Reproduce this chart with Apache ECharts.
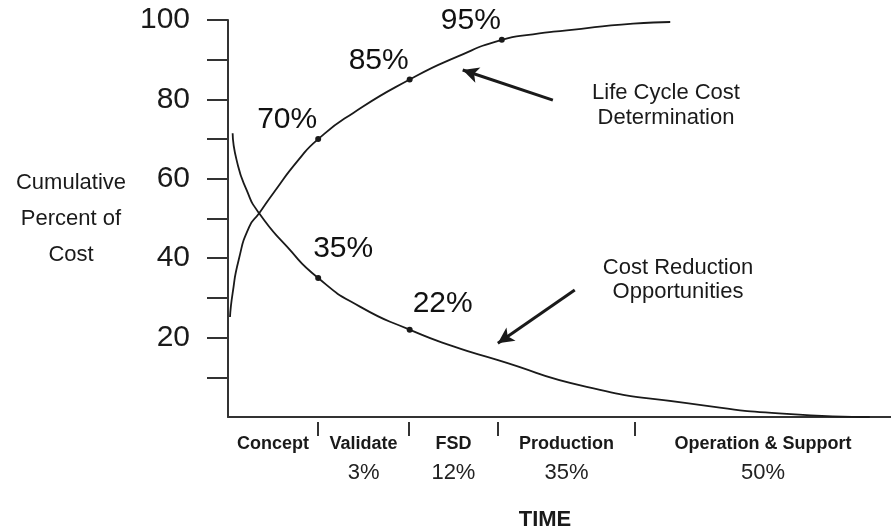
<!DOCTYPE html>
<html>
<head>
<meta charset="utf-8">
<script src="https://cdn.jsdelivr.net/npm/echarts@6/dist/echarts.min.js"></script>
<style>
  html, body { margin: 0; padding: 0; background: #fff; }
  #chart { width: 891px; height: 529px; }
</style>
</head>
<body>
<div id="chart"></div>
<script>
// program phases along the time axis (time runs 0..100)
const phases = ['Concept', 'Validate', 'FSD', 'Production', 'Operation & Support'];
const phaseShare = [null, 3, 12, 35, 50];           // % of cost spent in phase
const phaseBounds = [0, 13.6, 27.3, 40.7, 61.4, 100];

// life cycle cost determination (cumulative %)
const lccTime = [0.3, 0.7, 1.6, 3.2, 4.7, 6.8, 10.6, 13.6, 18.9, 27.4, 34.5, 41.3, 46, 51.1, 61.1, 66.7];
const lccValue = [25.2, 31.2, 39.5, 47.9, 51.3, 56.3, 64.7, 70, 76.6, 85, 90.7, 95, 96.4, 97.4, 99.1, 99.5];

// cost reduction opportunities
const crTime = [0.7, 1.3, 2.8, 4.7, 8.9, 13.6, 19.9, 27.4, 34, 40.6, 54.1, 69.2, 84.3, 96.8];
const crValue = [71.5, 64.7, 57.2, 51.3, 42.9, 35, 27.8, 22, 17.8, 14.4, 7.6, 3.5, 0.8, 0];

// marked milestones
const lccMarkTime = [13.6, 27.4, 41.3];
const lccMarkValue = [70, 85, 95];
const crMarkTime = [13.6, 27.4];
const crMarkValue = [35, 22];

const yTicks = [10, 20, 30, 40, 50, 60, 70, 80, 90, 100];
const yLabels = [20, 40, 60, 80, 100];

const font = '"Liberation Sans", Arial, Helvetica, sans-serif';
const ink = '#1a1a1a';

const separators = phaseBounds.slice(1, -1);
const phaseMid = phases.map((p, i) => (phaseBounds[i] + phaseBounds[i + 1]) / 2);

const zip = (xs, ys) => xs.map((x, i) => [x, ys[i]]);

const marks = [];
lccMarkTime.forEach((t, i) => {
  marks.push({ value: [t, lccMarkValue[i]], name: lccMarkValue[i] + '%',
    label: { offset: [-31, -19] } });
});
crMarkTime.forEach((t, i) => {
  marks.push({ value: [t, crMarkValue[i]], name: crMarkValue[i] + '%',
    label: { offset: i === 0 ? [25, -29] : [33, -26] } });
});

const chart = echarts.init(document.getElementById('chart'));

chart.setOption({
  backgroundColor: '#fff',
  animation: false,
  textStyle: { fontFamily: font, color: ink },
  title: {
    text: 'TIME',
    left: 540,
    top: 504,
    textAlign: 'center',
    textStyle: { fontFamily: font, fontSize: 22, fontWeight: 'bold', color: ink }
  },
  grid: { left: 228, right: 0, top: 20, bottom: 112 },
  xAxis: [
    {
      type: 'value', min: 0, max: 100,
      axisLine: { show: true, lineStyle: { color: '#333', width: 2 } },
      axisTick: { show: false },
      axisLabel: { show: false },
      splitLine: { show: false }
    },
    {
      type: 'value', min: 0, max: 100, position: 'bottom', offset: 5,
      axisLine: { show: false },
      axisTick: { show: true, length: 14, customValues: separators,
        lineStyle: { color: '#333', width: 2 } },
      axisLabel: {
        show: true, margin: 10, customValues: phaseMid,
        formatter: function (v) {
          const i = phaseMid.findIndex(m => Math.abs(m - v) < 1e-6);
          if (i < 0) return '';
          let s = '{n|' + phases[i] + '}';
          if (phaseShare[i] != null) s += '\n{p|' + phaseShare[i] + '%}';
          return s;
        },
        rich: {
          n: { fontFamily: font, fontSize: 18, fontWeight: 'bold', lineHeight: 24, color: ink },
          p: { fontFamily: font, fontSize: 22, lineHeight: 34, color: '#222' }
        }
      },
      splitLine: { show: false }
    }
  ],
  yAxis: {
    type: 'value', min: 0, max: 100, interval: 10,
    name: 'Cumulative\nPercent of\nCost',
    nameLocation: 'middle',
    nameRotate: 0,
    nameGap: 157,
    nameTextStyle: { fontFamily: font, fontSize: 22, lineHeight: 36, align: 'center',
      verticalAlign: 'middle', color: ink, padding: [0, 0, 8, 0] },
    axisLine: { show: true, lineStyle: { color: '#333', width: 2 } },
    axisTick: { show: true, length: 21, customValues: yTicks,
      lineStyle: { color: '#333', width: 2 } },
    axisLabel: { customValues: yLabels, fontFamily: font, fontSize: 30, color: ink, margin: 38 },
    splitLine: { show: false }
  },
  graphic: [
    { type: 'text', x: 666, y: 105,
      style: { text: 'Life Cycle Cost\nDetermination', align: 'center', verticalAlign: 'middle',
        fontFamily: font, fontSize: 22, lineHeight: 25, fill: ink } },
    { type: 'text', x: 678, y: 280,
      style: { text: 'Cost Reduction\nOpportunities', align: 'center', verticalAlign: 'middle',
        fontFamily: font, fontSize: 22, lineHeight: 24, fill: ink } }
  ],
  series: [
    {
      name: 'Life Cycle Cost Determination',
      type: 'line',
      data: zip(lccTime, lccValue),
      smooth: 0.6,
      showSymbol: false,
      lineStyle: { color: ink, width: 1.8 },
      markLine: {
        silent: true, symbol: ['none', 'arrow'], symbolSize: [12, 16],
        label: { show: false },
        lineStyle: { color: ink, width: 3, type: 'solid' },
        data: [[{ coord: [49.0, 79.8] }, { coord: [35.4, 87.4] }]]
      }
    },
    {
      name: 'Cost Reduction Opportunities',
      type: 'line',
      data: zip(crTime, crValue),
      smooth: 0.6,
      showSymbol: false,
      lineStyle: { color: ink, width: 1.8 },
      markLine: {
        silent: true, symbol: ['none', 'arrow'], symbolSize: [12, 16],
        label: { show: false },
        lineStyle: { color: ink, width: 3, type: 'solid' },
        data: [[{ coord: [52.3, 32.0] }, { coord: [40.7, 18.6] }]]
      }
    },
    {
      name: 'milestones',
      type: 'scatter',
      data: marks,
      symbolSize: 6,
      itemStyle: { color: ink, opacity: 1 },
      label: {
        show: true, position: 'inside', formatter: '{b}',
        fontFamily: font, fontSize: 30, color: '#111', opacity: 1
      }
    }
  ]
});
</script>
</body>
</html>
